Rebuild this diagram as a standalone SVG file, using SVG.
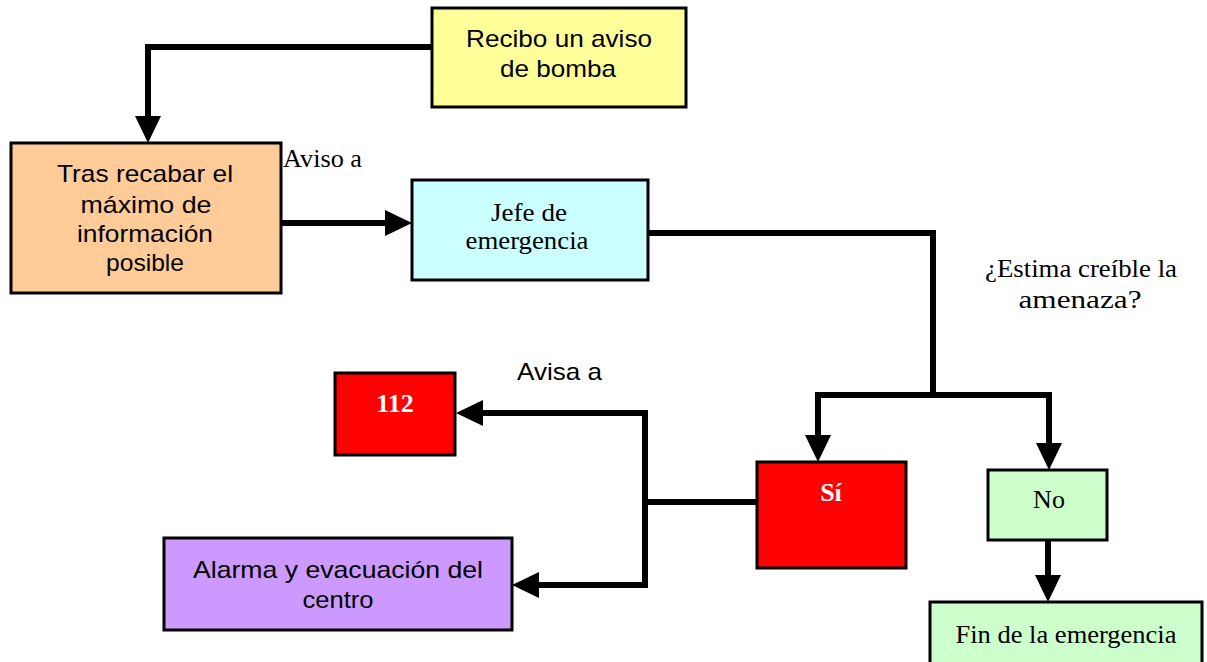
<svg xmlns="http://www.w3.org/2000/svg" width="1207" height="662" viewBox="0 0 1207 662">
<style>
.box{stroke:#000;stroke-width:3}
.conn{fill:none;stroke:#000;stroke-width:6;stroke-linejoin:miter}
.sans{font-family:"Liberation Sans",Arial,sans-serif;font-size:24px;fill:#000;text-anchor:middle}
.serif{font-family:"Liberation Serif","Times New Roman",serif;font-size:26px;fill:#000;text-anchor:middle}
.bold{font-family:"Liberation Serif","Times New Roman",serif;font-size:26px;font-weight:bold;fill:#fff;text-anchor:middle}
</style>
<defs>
<marker id="arr" markerUnits="userSpaceOnUse" viewBox="0 0 27 26" markerWidth="27" markerHeight="26" refX="1" refY="13" orient="auto">
<path d="M0,0 L27,13 L0,26 z" fill="#000"/>
</marker>
</defs>
<rect width="1207" height="662" fill="#fff"/>
<g id="connectors">
<path class="conn" d="M432,47 H148 V117" marker-end="url(#arr)"/>
<path class="conn" d="M281,223 H386" marker-end="url(#arr)"/>
<path class="conn" d="M648,233 H933 V395"/>
<path class="conn" d="M933,395 H818 V436" marker-end="url(#arr)"/>
<path class="conn" d="M933,395 H1049 V444" marker-end="url(#arr)"/>
<path class="conn" d="M1048,540 V576" marker-end="url(#arr)"/>
<path class="conn" d="M757,502 H645"/>
<path class="conn" d="M645,413 V588"/>
<path class="conn" d="M648,413 H482" marker-end="url(#arr)"/>
<path class="conn" d="M648,585 H538" marker-end="url(#arr)"/>
</g>
<g id="n-aviso">
<rect class="box" x="432" y="8" width="254" height="99" fill="#FFFF99"/>
<text class="sans" x="559" y="47" textLength="186" lengthAdjust="spacingAndGlyphs">Recibo un aviso</text>
<text class="sans" x="558" y="77" textLength="116" lengthAdjust="spacingAndGlyphs">de bomba</text>
</g>
<g id="n-tras">
<rect class="box" x="11" y="143" width="270" height="150" fill="#FFCC99"/>
<text class="sans" x="145" y="182" textLength="176" lengthAdjust="spacingAndGlyphs">Tras recabar el</text>
<text class="sans" x="146" y="213" textLength="131" lengthAdjust="spacingAndGlyphs">máximo de</text>
<text class="sans" x="145" y="242" textLength="136" lengthAdjust="spacingAndGlyphs">información</text>
<text class="sans" x="145" y="271" textLength="78" lengthAdjust="spacingAndGlyphs">posible</text>
</g>
<g id="l-aviso">
<text class="serif" x="283" y="167" style="text-anchor:start" textLength="79" lengthAdjust="spacingAndGlyphs">Aviso a</text>
</g>
<g id="n-jefe">
<rect class="box" x="412" y="180" width="236" height="100" fill="#CCFFFF"/>
<text class="serif" x="529" y="221" textLength="76" lengthAdjust="spacingAndGlyphs">Jefe de</text>
<text class="serif" x="527" y="249" textLength="123" lengthAdjust="spacingAndGlyphs">emergencia</text>
</g>
<g id="l-estima">
<text class="serif" x="1081" y="277" textLength="192" lengthAdjust="spacingAndGlyphs">¿Estima creíble la</text>
<text class="serif" x="1080" y="308" textLength="123" lengthAdjust="spacingAndGlyphs">amenaza?</text>
</g>
<g id="n-si">
<rect class="box" x="757" y="462" width="149" height="106" fill="#FF0000"/>
<text class="bold" x="831" y="501">Sí</text>
</g>
<g id="n-no">
<rect class="box" x="988" y="470" width="119" height="70" fill="#CCFFCC"/>
<text class="serif" x="1049" y="508">No</text>
</g>
<g id="n-fin">
<rect class="box" x="930" y="602" width="272" height="72" fill="#CCFFCC"/>
<text class="serif" x="1066" y="643" textLength="221" lengthAdjust="spacingAndGlyphs">Fin de la emergencia</text>
</g>
<g id="n-112">
<rect class="box" x="335" y="373" width="120" height="82" fill="#FF0000"/>
<text class="bold" x="395" y="412">112</text>
</g>
<g id="l-avisa">
<text class="sans" x="517" y="380" style="text-anchor:start" textLength="85" lengthAdjust="spacingAndGlyphs">Avisa a</text>
</g>
<g id="n-alarma">
<rect class="box" x="164" y="538" width="348" height="92" fill="#CC99FF"/>
<text class="sans" x="338" y="578" textLength="290" lengthAdjust="spacingAndGlyphs">Alarma y evacuación del</text>
<text class="sans" x="338" y="608" textLength="71" lengthAdjust="spacingAndGlyphs">centro</text>
</g>
</svg>
